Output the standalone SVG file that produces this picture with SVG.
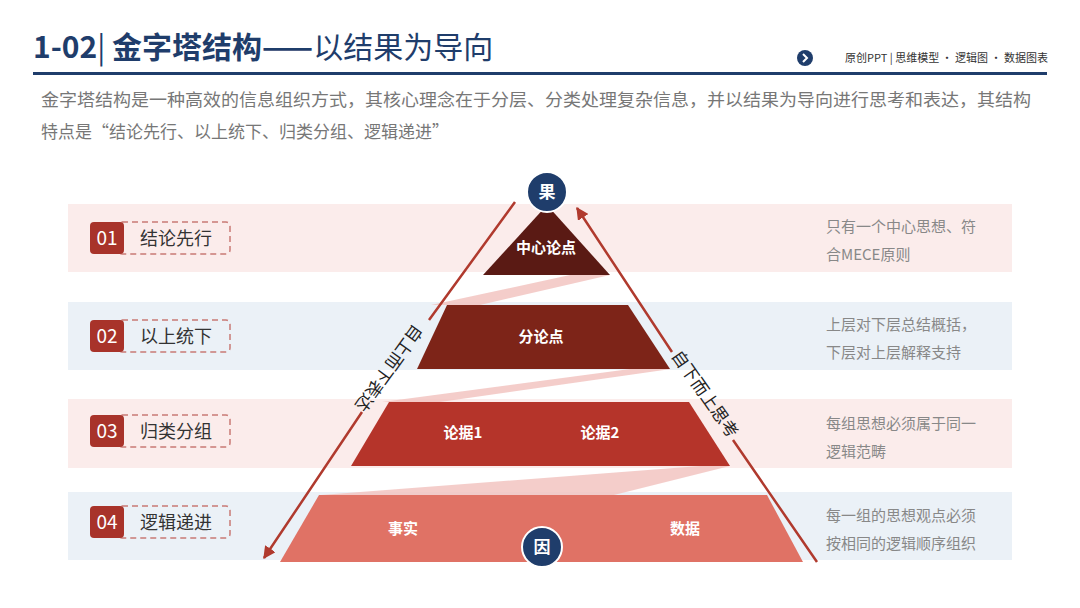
<svg xmlns="http://www.w3.org/2000/svg" width="1080" height="608" viewBox="0 0 1080 608">
<defs>
<style>
text{font-family:"Noto Sans CJK SC","Liberation Sans",sans-serif}
.band-p{fill:#fbeceb}.band-b{fill:#ebf1f7}
.num{fill:#a8332a}.numt{fill:#fff;font-size:19px}
.dash{fill:none;stroke:#c97a76;stroke-width:1.5;stroke-dasharray:6 4}
.lbl{fill:#333;font-size:18px}
.desc{fill:#888;font-size:15px}
.in{fill:#fff;font-size:15px;font-weight:bold;text-anchor:middle}
.rib{fill:#f2c4c1;opacity:.85}
.arr{stroke:#b03a2e;stroke-width:2.5;fill:none}
.side{fill:#222;font-size:17px;text-anchor:middle}
.circ{fill:#1f3d6b;stroke:#fff;stroke-width:2}
.ct{fill:#fff;font-size:17px;font-weight:bold;text-anchor:middle}
</style>
<marker id="ah" viewBox="0 0 10 10" refX="9" refY="5" markerWidth="5" markerHeight="5" orient="auto"><path d="M0,0L10,5L0,10z" fill="#b03a2e"/></marker>
</defs>
<rect width="1080" height="608" fill="#fff"/>
<g id="header">
<text x="33" y="58" font-size="30" font-weight="bold" fill="#1f3d6b">1-02<tspan font-weight="normal">|</tspan> 金字塔结构——<tspan font-weight="normal">以结果为导向</tspan></text>
<circle cx="805" cy="58" r="8" fill="#1f3d6b"/>
<path d="M803,54l4,4l-4,4" stroke="#fff" stroke-width="2" fill="none"/>
<text x="1048" y="62" font-size="11" fill="#333" text-anchor="end">原创PPT | 思维模型 · 逻辑图 · 数据图表</text>
<rect x="33" y="72" width="1014" height="3" fill="#1f3d6b"/>
<text x="41" y="106" font-size="17" fill="#777" textLength="990" lengthAdjust="spacingAndGlyphs">金字塔结构是一种高效的信息组织方式，其核心理念在于分层、分类处理复杂信息，并以结果为导向进行思考和表达，其结构</text>
<text x="41" y="138" font-size="17" fill="#777">特点是“结论先行、以上统下、归类分组、逻辑递进”</text>
</g>
<g id="bands">
<rect class="band-p" x="68" y="204" width="944" height="68"/>
<rect class="band-b" x="68" y="302" width="944" height="68"/>
<rect class="band-p" x="68" y="399" width="944" height="69"/>
<rect class="band-b" x="68" y="492" width="944" height="68"/>
</g>
<g id="row1"><rect class="dash" x="118" y="222" width="112" height="32" rx="4"/><rect class="num" x="90" y="222" width="34" height="32" rx="4"/><text class="numt" x="107" y="245" text-anchor="middle">01</text><text class="lbl" x="140" y="245">结论先行</text>
<text class="desc" x="826" y="232">只有一个中心思想、符</text><text class="desc" x="826" y="260">合MECE原则</text></g>
<g id="row2"><rect class="dash" x="118" y="320" width="112" height="32" rx="4"/><rect class="num" x="90" y="320" width="34" height="32" rx="4"/><text class="numt" x="107" y="343" text-anchor="middle">02</text><text class="lbl" x="140" y="343">以上统下</text>
<text class="desc" x="826" y="330">上层对下层总结概括，</text><text class="desc" x="826" y="358">下层对上层解释支持</text></g>
<g id="row3"><rect class="dash" x="118" y="415" width="112" height="32" rx="4"/><rect class="num" x="90" y="415" width="34" height="32" rx="4"/><text class="numt" x="107" y="438" text-anchor="middle">03</text><text class="lbl" x="140" y="438">归类分组</text>
<text class="desc" x="826" y="429">每组思想必须属于同一</text><text class="desc" x="826" y="457">逻辑范畴</text></g>
<g id="row4"><rect class="dash" x="118" y="506" width="112" height="32" rx="4"/><rect class="num" x="90" y="506" width="34" height="32" rx="4"/><text class="numt" x="107" y="529" text-anchor="middle">04</text><text class="lbl" x="140" y="529">逻辑递进</text>
<text class="desc" x="826" y="521">每一组的思想观点必须</text><text class="desc" x="826" y="549">按相同的逻辑顺序组织</text></g>
<g id="connectors">
<polygon class="rib" points="570,275 610,275 480,305 431,305"/>
<polygon class="rib" points="630,369 671,369 440,402 382,402"/>
<polygon class="rib" points="700,466 730,466 614,495 321,495"/>
<path class="arr" d="M515,202L429,320M362,412L264,558" marker-end="url(#ah)"/>
<path class="arr" d="M817,562L733,440M672,352L577,208" marker-end="url(#ah)"/>
</g>
<g id="layer1"><polygon points="547,205 610,275 483,275" fill="#5a1a14"/><text class="in" x="546" y="253">中心论点</text></g>
<g id="layer2"><polygon points="447,305 628,305 670,369 417,369" fill="#7d2418"/><text class="in" x="541" y="342">分论点</text></g>
<g id="layer3"><polygon points="389,402 689,402 730,466 351,466" fill="#b5342a"/><text class="in" x="463" y="438">论据1</text><text class="in" x="600" y="438">论据2</text></g>
<g id="layer4"><polygon points="319,495 767,495 803,562 280,562" fill="#e07265"/><text class="in" x="403" y="534">事实</text><text class="in" x="685" y="534">数据</text></g>
<g id="sidelabels">
<text class="side" transform="translate(389,368) rotate(126)" dy="6">自上而下表达</text>
<text class="side" transform="translate(705,394) rotate(55)" dy="6">自下而上思考</text>
</g>
<g id="node-guo"><circle class="circ" cx="547" cy="192" r="20"/><text class="ct" x="547" y="198">果</text></g>
<g id="node-yin"><circle class="circ" cx="542" cy="547" r="20"/><text class="ct" x="542" y="553">因</text></g>
</svg>
